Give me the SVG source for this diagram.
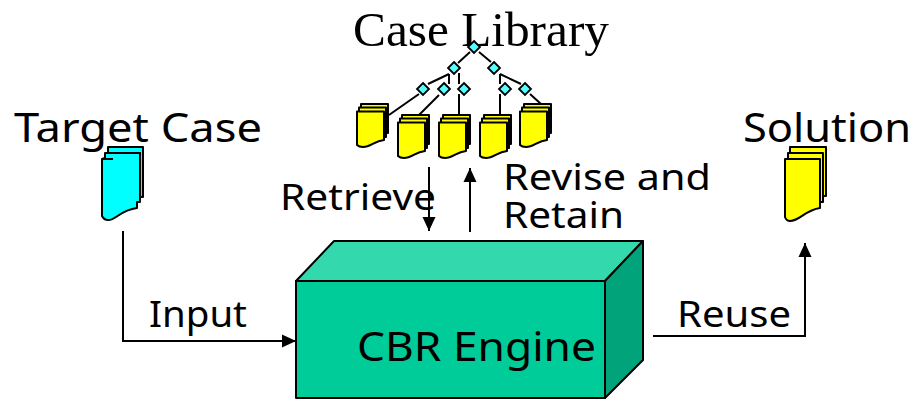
<svg xmlns="http://www.w3.org/2000/svg" width="913" height="399" viewBox="0 0 913 399">
<style>
text{font-family:"Noto Sans","DejaVu Sans",sans-serif;fill:#000}
.t38{font-size:40px}.t35{font-size:36px}
.serif{font-family:"Liberation Serif","Times New Roman",serif;font-size:49px}
.c{fill:none;stroke:#000;stroke-width:2}
.l{fill:none;stroke:#000;stroke-width:2}
.y path{fill:#ff0;stroke:#000;stroke-width:2;stroke-linejoin:round}
.d{fill:#5ff;stroke:#000;stroke-width:1.8}
.box{stroke:#000;stroke-width:2;stroke-linejoin:round}
</style>
<defs>
<marker id="a" markerUnits="userSpaceOnUse" markerWidth="14" markerHeight="14" refX="14" refY="7" orient="auto"><path d="M0,0.5L14,7L0,13.5Z" fill="#000"/></marker>
<g id="sd" class="y">
<path d="M4,0H31V29H4Z"/>
<path d="M2,3.5H29V33H2Z"/>
<path d="M0,7.5H27V36C17,37 14,43 6,43C3,43 1,42 0,41Z"/>
</g>
<path id="dm" class="d" d="M0,-6L6,0L0,6L-6,0Z"/>
</defs>
<g id="connectors">
<path class="c" d="M123,231V341H296" marker-end="url(#a)"/>
<path class="c" d="M653,336H805V243" marker-end="url(#a)"/>
<path class="c" d="M429,167V231" marker-end="url(#a)"/>
<path class="c" d="M470,232V168" marker-end="url(#a)"/>
<path class="l" d="M470,52L458,63M479,52L491,62M449,74L428,84M449,74V84M459,73V84M500,74V84M500,74L521,84M419,94L389,115M439,95L419,115M459,94V115M500,94V115M530,94L541,104"/>
</g>
<g id="case-library">
<text class="serif" x="353" y="46" textLength="256" lengthAdjust="spacingAndGlyphs">Case Library</text>
<use href="#dm" x="474" y="47"/><use href="#dm" x="454" y="68"/><use href="#dm" x="494" y="68"/>
<use href="#dm" x="423" y="89"/><use href="#dm" x="444" y="89"/><use href="#dm" x="464" y="89"/><use href="#dm" x="505" y="89"/><use href="#dm" x="525" y="89"/>
<use href="#sd" x="357" y="104"/><use href="#sd" x="398" y="115"/><use href="#sd" x="439" y="115"/><use href="#sd" x="480" y="115"/><use href="#sd" x="520" y="104"/>
</g>
<g id="target-case">
<text class="t38" x="14" y="142" textLength="248" lengthAdjust="spacingAndGlyphs">Target Case</text>
<path d="M108,147H143V197H140V202H137V208C120,210 115,221 108,220C105,220 103,218 102,216V159L105,158V153H108Z" fill="#0ff" stroke="#000" stroke-width="2" stroke-linejoin="round"/>
<path class="c" d="M105,153H140V197M102,159H113"/>
</g>
<g id="solution">
<text class="t38" x="743" y="142" textLength="168" lengthAdjust="spacingAndGlyphs">Solution</text>
<g class="y">
<path d="M790,147H826V196H790Z"/><path d="M788,153H823V202H788Z"/>
<path d="M785,159H820V208C805,210 800,221 790,221C788,221 786,220 785,217Z"/>
</g>
</g>
<g id="cbr-engine">
<path class="box" fill="#00cc99" d="M296,281H605V398H296Z"/>
<path class="box" fill="#33d9ad" d="M296,281L334,241H643L605,281Z"/>
<path class="box" fill="#00a37a" d="M605,281L643,241V360L605,398Z"/>
<text class="t38" x="357" y="361" textLength="239" lengthAdjust="spacingAndGlyphs">CBR Engine</text>
</g>
<g id="labels">
<text class="t35" x="280" y="210" textLength="156" lengthAdjust="spacingAndGlyphs">Retrieve</text>
<text class="t35" x="503" y="190" textLength="208" lengthAdjust="spacingAndGlyphs">Revise and</text>
<text class="t35" x="503" y="228" textLength="121" lengthAdjust="spacingAndGlyphs">Retain</text>
<text class="t35" x="149" y="327" textLength="98" lengthAdjust="spacingAndGlyphs">Input</text>
<text class="t35" x="677" y="327" textLength="114" lengthAdjust="spacingAndGlyphs">Reuse</text>
</g>
</svg>
